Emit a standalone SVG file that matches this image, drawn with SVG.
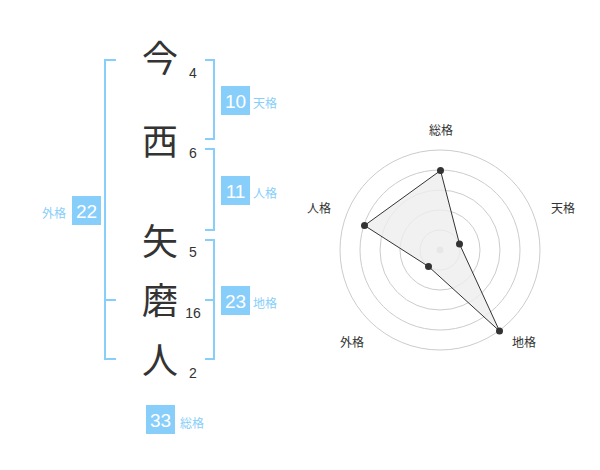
<svg xmlns="http://www.w3.org/2000/svg" width="600" height="470" viewBox="0 0 600 470">
<style>
.ch{font-family:"Noto Sans CJK JP","Noto Sans CJK SC",sans-serif;font-size:36px;fill:#333;text-anchor:middle}
.st{font-family:"Liberation Sans",Arial,sans-serif;font-size:14px;fill:#333;text-anchor:middle}
.br{fill:none;stroke:#87cefa;stroke-width:2}
.bx{fill:#87cefa}
.bn{font-family:"Liberation Sans",Arial,sans-serif;font-size:19px;fill:#fff;text-anchor:middle}
.lb{font-family:"Noto Sans CJK JP","Noto Sans CJK SC",sans-serif;font-size:12px;fill:#87cefa}
.ring{fill:none;stroke:#ccc;stroke-width:1}
.rl{font-family:"Noto Sans CJK JP","Noto Sans CJK SC",sans-serif;font-size:12px;fill:#333;text-anchor:middle}
</style>
<rect width="600" height="470" fill="#fff"/>
<g id="connectors">
<path class="br" d="M116,60 H105 V359 H116 M105,300 H116"/>
<path class="br" d="M205,60 H214 V139 H205"/>
<path class="br" d="M205,149 H214 V230 H205"/>
<path class="br" d="M205,240 H214 V359 H205 M214,300 H205"/>
</g>
<g id="char-1"><text class="ch" x="160" y="72">今</text><text class="st" x="193" y="78">4</text></g>
<g id="char-2"><text class="ch" x="160" y="155">西</text><text class="st" x="193" y="158">6</text></g>
<g id="char-3"><text class="ch" x="160" y="255">矢</text><text class="st" x="193" y="257">5</text></g>
<g id="char-4"><text class="ch" x="160" y="314">磨</text><text class="st" x="193" y="318">16</text></g>
<g id="char-5"><text class="ch" x="160" y="374">人</text><text class="st" x="193" y="378">2</text></g>
<g id="tenkaku"><rect class="bx" x="221" y="86" width="29" height="29"/><text class="bn" x="235.5" y="107.5">10</text><text class="lb" x="253" y="108">天格</text></g>
<g id="jinkaku"><rect class="bx" x="221" y="176" width="29" height="29"/><text class="bn" x="235.5" y="197.5">11</text><text class="lb" x="253" y="198">人格</text></g>
<g id="gaikaku"><rect class="bx" x="72" y="196" width="29" height="29"/><text class="bn" x="86.5" y="217.5">22</text><text class="lb" x="66" y="218" text-anchor="end">外格</text></g>
<g id="chikaku"><rect class="bx" x="221" y="286" width="29" height="29"/><text class="bn" x="235.5" y="307.5">23</text><text class="lb" x="253" y="308">地格</text></g>
<g id="soukaku"><rect class="bx" x="146" y="405" width="29" height="29"/><text class="bn" x="160.5" y="426.5">33</text><text class="lb" x="180" y="428">総格</text></g>
<g id="radar">
<circle class="ring" cx="440" cy="250" r="20"/>
<circle class="ring" cx="440" cy="250" r="40"/>
<circle class="ring" cx="440" cy="250" r="60"/>
<circle class="ring" cx="440" cy="250" r="80"/>
<circle class="ring" cx="440" cy="250" r="100"/>
<circle cx="440" cy="250" r="3.5" fill="#ccc"/>
<polygon points="440.5,170.5 459.5,244 499.5,331 428.5,266.5 364.5,225.5" fill="#eee" fill-opacity="0.8" stroke="#333" stroke-width="1"/>
<circle cx="440.5" cy="170.5" r="3.5" fill="#333"/>
<circle cx="459.5" cy="244" r="3.5" fill="#333"/>
<circle cx="499.5" cy="331" r="3.5" fill="#333"/>
<circle cx="428.5" cy="266.5" r="3.5" fill="#333"/>
<circle cx="364.5" cy="225.5" r="3.5" fill="#333"/>
<text class="rl" x="441" y="135">総格</text>
<text class="rl" x="563" y="213">天格</text>
<text class="rl" x="319" y="213">人格</text>
<text class="rl" x="352" y="347">外格</text>
<text class="rl" x="524" y="347">地格</text>
</g>
</svg>
